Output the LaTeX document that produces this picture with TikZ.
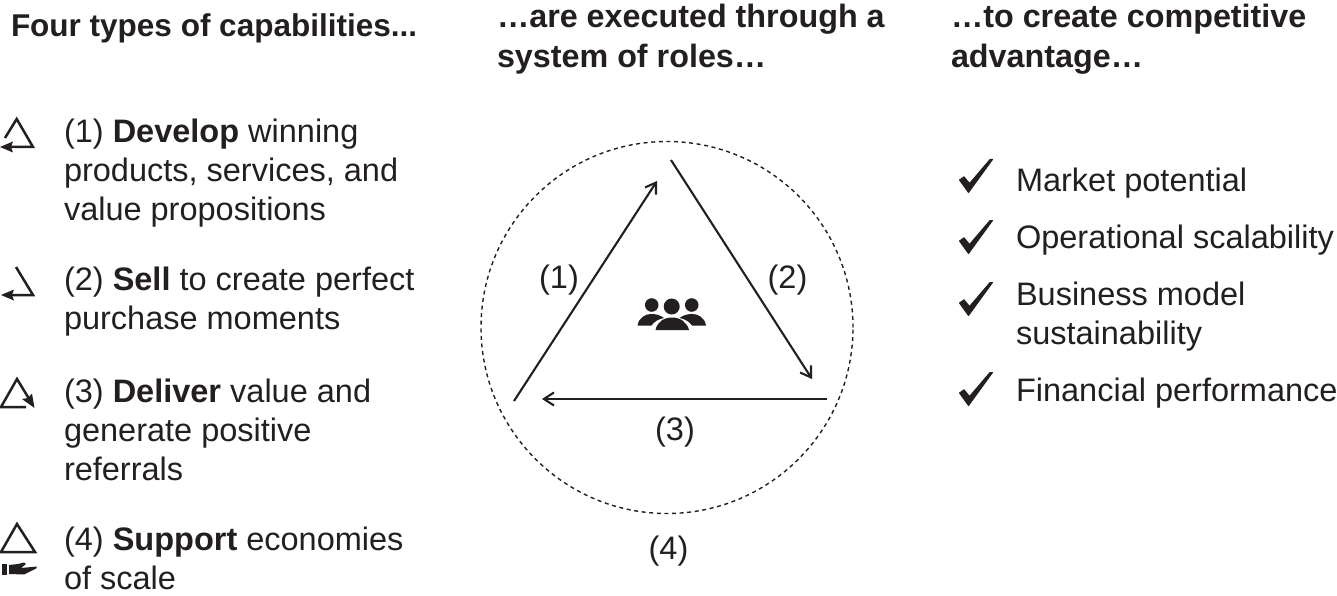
\documentclass[tikz,border=0pt]{standalone}
\usepackage{fontspec}
\setmainfont{Liberation Sans}
\usetikzlibrary{arrows.meta}
\definecolor{ink}{HTML}{231F20}
\tikzset{
  x=1pt,y=-1pt,
  txt/.style={anchor=base west,inner sep=0pt,outer sep=0pt,text=ink,font=\fontsize{32.5}{39}\selectfont},
  head/.style={anchor=base west,inner sep=0pt,outer sep=0pt,text=ink,font=\fontsize{32.3}{39}\selectfont\bfseries},
  headb/.style={anchor=base west,inner sep=0pt,outer sep=0pt,text=ink,font=\fontsize{31.5}{39}\selectfont\bfseries},
  lab/.style={anchor=center,inner sep=0pt,text=ink,font=\fontsize{32.5}{39}\selectfont},
  conn/.style={draw=ink,line width=2.1pt,-{Straight Barb[length=10pt,width=13pt,line width=2.1pt]}},
  ico/.style={draw=ink,line width=2.5pt,line join=miter},
  tick/.pic={\fill[ink,draw=ink,line width=1pt,line join=round] (959.5,180)--(964,176.8)--(969.5,183.5)--(990,159.5)--(992.5,159.5)--(968.5,192.5)--cycle;}
}
\begin{document}
\begin{tikzpicture}
\useasboundingbox (0,0) rectangle (1337,596);
% headings
\node[headb] (h1) at (11,36.5) {Four types of capabilities...};
\node[head] (h2a) at (497,28) {…are executed through a};
\node[head] (h2b) at (497,67.5) {system of roles…};
\node[head] (h3a) at (951,28) {…to create competitive};
\node[head] (h3b) at (951,67.5) {advantage…};
% left column
\node[txt] (l1a) at (64,142.5) {(1) \textbf{Develop} winning};
\node[txt] (l1b) at (64,181.5) {products, services, and};
\node[txt] (l1c) at (64,220.5) {value propositions};
\node[txt] (l2a) at (64,290) {(2) \textbf{Sell} to create perfect};
\node[txt] (l2b) at (64,329) {purchase moments};
\node[txt] (l3a) at (64,402.5) {(3) \textbf{Deliver} value and};
\node[txt] (l3b) at (64,441.5) {generate positive};
\node[txt] (l3c) at (64,480.5) {referrals};
\node[txt] (l4a) at (64,550) {(4) \textbf{Support} economies};
\node[txt] (l4b) at (64,589) {of scale};
% left icons
\draw[ico] (5,138)--(16.7,119)--(33,147)--(10,147);
\fill[ink] (0,147)--(13,141.5)--(11,147)--(13,152.5)--cycle;
\draw[ico] (16,267)--(33,295)--(10,295);
\fill[ink] (1,295)--(14,289.5)--(12,295)--(14,300.5)--cycle;
\draw[ico] (26,407)--(1,407)--(17,379)--(31,402);
\fill[ink] (34.5,408)--(22,399)--(28,398)--(32,393.5)--cycle;
\draw[ico] (17,524)--(1,552)--(35,552)--cycle;
\fill[ink] (2,564) rectangle (7,575);
\fill[ink] (9,565)--(18,564)--(24,562.5)--(26,564)--(21,568)--(37,566.5)--(36,568.5)--(24,574.5)--(9,574)--cycle;
% middle
\node[draw=ink,dash pattern=on 4pt off 3.6pt,line width=1.4pt,circle,minimum size=372pt,inner sep=0pt] (ring) at (667,327.5) {};
\coordinate (a1s) at (514,401);
\coordinate (a1e) at (657,181);
\coordinate (a2s) at (671,160);
\coordinate (a2e) at (812,379);
\coordinate (a3s) at (827,399);
\coordinate (a3e) at (542,399);
\draw[conn] (a1s)--(a1e);
\draw[conn] (a2s)--(a2e);
\draw[conn] (a3s)--(a3e);
\node[lab] (n1) at (559,280) {(1)};
\node[lab] (n2) at (787.5,280) {(2)};
\node[lab] (n3) at (675,432) {(3)};
\node[lab] (n4) at (668.5,551) {(4)};
% people
\fill[ink] (651.7,305) circle (6.8);
\fill[ink] (691.7,305) circle (6.8);
\fill[ink] (671.7,306.5) circle (8);
\fill[ink] (637.5,325.5) .. controls (639,317) and (646,314) .. (651,314) .. controls (656,314) and (660,315) .. (664,318) .. controls (658,319) and (654,322) .. (651.5,325.5) -- cycle;
\fill[ink] (706,325.5) .. controls (704.5,317) and (697.5,314) .. (692.5,314) .. controls (687.5,314) and (683.5,315) .. (679.5,318) .. controls (685.5,319) and (689.5,322) .. (692,325.5) -- cycle;
\fill[ink] (655.5,330) .. controls (657,322) and (664,317.5) .. (672,317.5) .. controls (680,317.5) and (687,322) .. (689,330) -- cycle;
% right column
\pic at (0,0) {tick};
\pic at (0,61) {tick};
\pic at (0,123) {tick};
\pic at (0,213) {tick};
\node[txt] (r1) at (1016,191.5) {Market potential};
\node[txt] (r2) at (1016,248.5) {Operational scalability};
\node[txt] (r3a) at (1016,305.5) {Business model};
\node[txt] (r3b) at (1016,344.5) {sustainability};
\node[txt] (r4) at (1016,401.5) {Financial performance};
\end{tikzpicture}
\end{document}
